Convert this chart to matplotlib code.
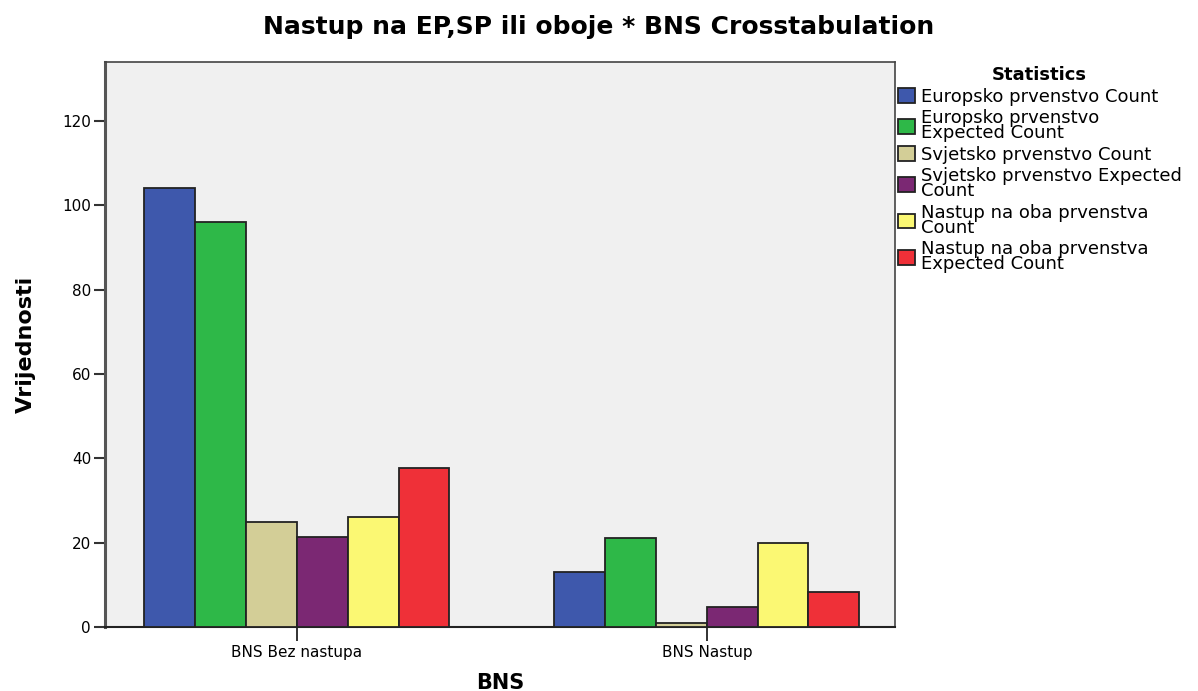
import numpy as np
import matplotlib
matplotlib.use("Agg")
import matplotlib.pyplot as plt

# data
groups = ["BNS Bez nastupa", "BNS Nastup"]
series = [
    "Europsko prvenstvo Count",
    "Europsko prvenstvo\nExpected Count",
    "Svjetsko prvenstvo Count",
    "Svjetsko prvenstvo Expected\nCount",
    "Nastup na oba prvenstva\nCount",
    "Nastup na oba prvenstva\nExpected Count",
]
values = [
    [104, 13],
    [96.0, 21.0],
    [25, 1],
    [21.3, 4.7],
    [26, 20],
    [37.7, 8.3],
]
colors = ["#3e58ac", "#2eb848", "#d3ce97", "#7b2873", "#fbf873", "#ef3038"]

plt.rcParams["font.family"] = "DejaVu Sans"

fig = plt.figure(figsize=(11.98, 6.91), dpi=100)
ax = fig.add_axes([105 / 1198, 1 - 627 / 691, 790 / 1198, 565 / 691])
ax.set_facecolor("#f0f0f0")

x = np.arange(len(groups))
w = 0.124
n = len(series)
for i, (name, vals, c) in enumerate(zip(series, values, colors)):
    ax.bar(x + (i - (n - 1) / 2) * w, vals, width=w, color=c,
           edgecolor="#222222", linewidth=1.3, label=name, zorder=3)

ax.set_xlim(-0.468, 1.459)
ax.set_ylim(0, 134)
ax.set_yticks(range(0, 121, 20))
ax.set_xticks(x)
ax.set_xticklabels(groups, fontsize=11)
ax.tick_params(axis="y", labelsize=11, length=8, width=1.5, color="#333333", pad=2)
ax.tick_params(axis="x", length=10, width=1.3, color="#222222", pad=3)

for s in ["top", "right"]:
    ax.spines[s].set_color("#444444")
    ax.spines[s].set_linewidth(1.2)
ax.spines["left"].set_color("#555555")
ax.spines["left"].set_linewidth(2.2)
ax.spines["bottom"].set_color("#222222")
ax.spines["bottom"].set_linewidth(1.5)

ax.set_ylabel("Vrijednosti", fontsize=16, fontweight="bold", labelpad=19)
fig.text(500 / 1198, 1 - 683 / 691, "BNS", fontsize=15, fontweight="bold",
         ha="center", va="center")
fig.suptitle("Nastup na EP,SP ili oboje * BNS Crosstabulation",
             fontsize=18, fontweight="bold", x=0.5, y=1 - 27 / 691, va="center")

leg = ax.legend(loc="upper left", bbox_to_anchor=(898 / 1198, 1 - 66 / 691),
                bbox_transform=fig.transFigure, frameon=False, fontsize=13,
                title="Statistics", title_fontproperties={"weight": "bold", "size": 13},
                handlelength=0.95, handleheight=0.85, handletextpad=0.3,
                labelspacing=0.2, borderpad=0, borderaxespad=0)
for t in leg.get_texts():
    t.set_linespacing(0.78)

fig.savefig("out.png", dpi=100)
